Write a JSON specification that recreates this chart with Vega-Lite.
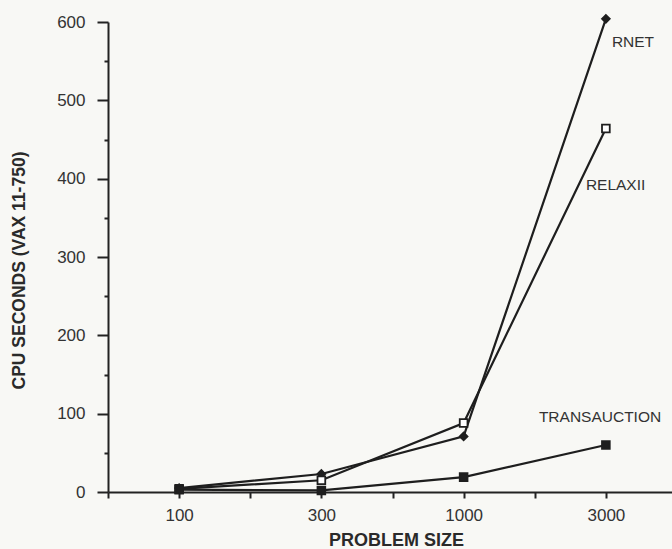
{
  "$schema": "https://vega.github.io/schema/vega-lite/v6.json",
  "width": 569,
  "height": 470,
  "autosize": {"type": "none"},
  "padding": {"left": 108, "top": 22, "right": 0, "bottom": 57},
  "background": "#f8f8f5",
  "config": {"view": {"stroke": null}, "font": "Liberation Sans"},
  "datasets": {
    "runs": [
      {"series": "RNET", "size": "100", "cpu": 5},
      {"series": "RNET", "size": "300", "cpu": 23},
      {"series": "RNET", "size": "1000", "cpu": 71},
      {"series": "RNET", "size": "3000", "cpu": 604},
      {"series": "RELAXII", "size": "100", "cpu": 4},
      {"series": "RELAXII", "size": "300", "cpu": 15},
      {"series": "RELAXII", "size": "1000", "cpu": 88},
      {"series": "RELAXII", "size": "3000", "cpu": 464},
      {"series": "TRANSAUCTION", "size": "100", "cpu": 3},
      {"series": "TRANSAUCTION", "size": "300", "cpu": 2},
      {"series": "TRANSAUCTION", "size": "1000", "cpu": 19},
      {"series": "TRANSAUCTION", "size": "3000", "cpu": 60}
    ],
    "labels": [
      {"series": "RNET", "size": "3000", "cpu": 574},
      {"series": "RELAXII", "size": "3000", "cpu": 392},
      {"series": "TRANSAUCTION", "size": "3000", "cpu": 96}
    ]
  },
  "encoding": {
    "x": {
      "field": "size",
      "type": "ordinal",
      "scale": {"type": "point", "domain": ["a", "100", "b", "300", "c", "1000", "d", "3000", "e"], "padding": 0},
      "axis": {
        "title": "PROBLEM SIZE",
        "labelExpr": "isNaN(toNumber(datum.value)) ? '' : datum.label",
        "labelAngle": 0,
        "labelFontSize": 17,
        "labelColor": "#333333",
        "labelPadding": 9,
        "tickSize": 6,
        "tickWidth": 2,
        "tickColor": "#222222",
        "domainColor": "#222222",
        "domainWidth": 2,
        "grid": false,
        "titleFontSize": 18,
        "titleFontWeight": "bold",
        "titleColor": "#2a2a2a",
        "titleX": 288,
        "titleY": 48,
        "titleAlign": "center",
        "titleBaseline": "middle"
      }
    },
    "y": {
      "field": "cpu",
      "type": "quantitative",
      "scale": {"domain": [0, 600], "nice": false, "clamp": false},
      "axis": {
        "title": "CPU SECONDS (VAX 11-750)",
        "values": [0, 50, 100, 150, 200, 250, 300, 350, 400, 450, 500, 550, 600],
        "labelExpr": "datum.value % 100 === 0 ? datum.label : ''",
        "labelFontSize": 17,
        "labelColor": "#333333",
        "labelPadding": 12,
        "tickSize": {"condition": {"test": "datum.value % 100 === 0", "value": 11}, "value": 4},
        "tickWidth": 2,
        "tickColor": "#222222",
        "domainColor": "#222222",
        "domainWidth": 2,
        "grid": false,
        "titleFontSize": 17.5,
        "titleFontWeight": "bold",
        "titleColor": "#2a2a2a",
        "titleX": -89,
        "titleY": 248,
        "titleAngle": -90,
        "titleAlign": "center",
        "titleBaseline": "middle"
      }
    }
  },
  "layer": [
    {
      "data": {"name": "runs"},
      "mark": {"type": "line", "color": "#1e1e1e", "strokeWidth": 2.2, "clip": false},
      "encoding": {"detail": {"field": "series", "type": "nominal"}}
    },
    {
      "data": {"name": "runs"},
      "mark": {"type": "point", "filled": true, "size": 60, "stroke": "#1e1e1e", "strokeWidth": 1.8, "opacity": 1, "clip": false},
      "encoding": {
        "shape": {"field": "series", "type": "nominal", "scale": {"domain": ["RNET", "RELAXII", "TRANSAUCTION"], "range": ["diamond", "square", "square"]}, "legend": null},
        "fill": {"field": "series", "type": "nominal", "scale": {"domain": ["RNET", "RELAXII", "TRANSAUCTION"], "range": ["#1e1e1e", "#ffffff", "#1e1e1e"]}, "legend": null}
      }
    },
    {
      "data": {"name": "labels"},
      "transform": [{"filter": "datum.series === 'RNET'"}],
      "mark": {"type": "text", "align": "left", "baseline": "middle", "dx": 6, "fontSize": 15.5, "color": "#333333"},
      "encoding": {"text": {"field": "series", "type": "nominal"}}
    },
    {
      "data": {"name": "labels"},
      "transform": [{"filter": "datum.series === 'RELAXII'"}],
      "mark": {"type": "text", "align": "left", "baseline": "middle", "dx": -20, "fontSize": 15.5, "color": "#333333"},
      "encoding": {"text": {"field": "series", "type": "nominal"}}
    },
    {
      "data": {"name": "labels"},
      "transform": [{"filter": "datum.series === 'TRANSAUCTION'"}],
      "mark": {"type": "text", "align": "left", "baseline": "middle", "dx": -67, "fontSize": 15.5, "color": "#333333"},
      "encoding": {"text": {"field": "series", "type": "nominal"}}
    }
  ]
}
